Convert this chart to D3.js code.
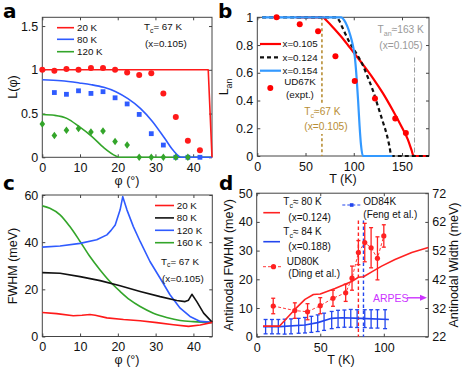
<!DOCTYPE html>
<html>
<head>
<meta charset="utf-8">
<script src="https://cdn.jsdelivr.net/npm/d3@7"></script>
<style>
	body { margin: 0; background: #fff; }
	svg { font-family: "Liberation Sans", Arial, sans-serif; }
</style>
</head>
<body>
<script>
// ---------- panel a : L(phi) ----------
const aPhi = [0, 3.2, 6.4, 9.6, 12.9, 16.1, 19.3, 22.5, 25.7, 28.9, 32.1, 35.4, 38.6, 41.8];
const aRed20K = [1.0, 0.99, 1.01, 1.0, 1.02, 1.02, 1.0, 0.97, 0.94, 0.96, 0.73, 0.46, 0.19, 0.08];
const aBlue80K = [null, 0.74, 0.72, 0.76, 0.73, 0.75, 0.68, 0.61, 0.49, 0.27, 0.14, 0, 0, 0];
const aGreen120K = [0.38, 0.25, 0.31, 0.33, 0.29, 0.30, 0.18, 0.14, 0, 0, 0, 0, 0, null];
const aLine20K = [[0, 1], [44, 1], [45, 0]];
const aLine80K = [[0, 0.887], [5, 0.875], [9.8, 0.85], [13, 0.83], [16.3, 0.8], [19.5, 0.75], [22.7, 0.67], [26, 0.56],
	[29.2, 0.41], [32.4, 0.22], [34.7, 0.08], [36.9, 0], [45, 0]];
const aLine120K = [[0, 0.49], [3.2, 0.48], [6.5, 0.445], [9.8, 0.35], [13.1, 0.24], [16.3, 0.11], [19.5, 0.015], [20.5, 0], [45, 0]];

// ---------- panel b : L_an(T) ----------
const bLine105 = [[40, 1], [68, 1], [72, 0.975], [80, 0.915], [90, 0.835], [100, 0.745], [110, 0.655], [120, 0.56],
	[130, 0.455], [140, 0.335], [150, 0.205], [156, 0.12], [160, 0.04], [162, 0], [178, 0]];
const bLine124 = [[5, 1], [82, 1], [85, 0.975], [88, 0.93], [92, 0.87], [96, 0.815], [100, 0.77], [104, 0.725], [110, 0.645],
	[115, 0.56], [120, 0.47], [125, 0.36], [130, 0.25], [134, 0.16], [137, 0.07], [139, 0], [178, 0]];
const bLine154 = [[5, 1], [87, 1], [90, 0.98], [93, 0.94], [96, 0.88], [99, 0.8], [101, 0.72], [103, 0.56], [104.5, 0.4],
	[106, 0.22], [107.5, 0.08], [109.5, 0], [140, 0]];
const bExpT = [20, 44, 63, 81, 101, 122, 143, 154];
const bExpL = [1.0, 0.95, 0.9, 0.72, 0.54, 0.415, 0.27, 0.165];
const bTc = 67, bTan = 163;

// ---------- panel c : FWHM(phi) ----------
const c20K = [[0, 10.2], [3.8, 9.7], [8.2, 8.8], [10.5, 9.0], [12.6, 9.3], [14, 9.0], [17.1, 7.9], [21.5, 7.2], [25.9, 6.7],
	[30.3, 5.9], [34.7, 5.0], [38.7, 4.3], [41.8, 4.9], [45, 6.0]];
const c80K = [[0, 27.1], [4.7, 26.8], [10, 25.4], [15.3, 23.7], [20.6, 21.5], [25.9, 19.1], [31.2, 16.9], [35.6, 15.3],
	[37.8, 14.8], [38.7, 15.4], [39.6, 17.9], [40.9, 14.8], [42.7, 9.9], [45, 6.0]];
const c120K = [[0, 37.9], [4.7, 38.4], [10, 39.5], [14.4, 41.0], [17.1, 43.1], [18.2, 45.0], [19.3, 47.3], [20.6, 53.7],
	[21.3, 59.3], [22.4, 53.7], [24.1, 46.6], [25.9, 40.3], [28.5, 31.8], [31.2, 24.7], [33.8, 17.7], [36.5, 12.0],
	[39.1, 8.5], [41.8, 6.4], [45, 6.0]];
const c160K = [[0, 55.4], [2, 54.4], [4.7, 51.6], [7.3, 46.6], [10, 40.3], [12.6, 33.9], [15.3, 28.2], [17.9, 23.3],
	[20.6, 19.1], [23.2, 15.5], [25.9, 12.7], [29.4, 9.9], [32.9, 8.1], [36.5, 6.8], [40, 6.3], [45, 6.0]];

// ---------- panel d : antinodal FWHM(T) ----------
const dLine80K = [[5, 3.7], [18, 3.7], [30, 9.5], [38, 13], [44.6, 14.7], [50, 14.9], [61.6, 16.8], [74.7, 19.2], [80, 20.7],
	[84, 20.9], [90.5, 22.6], [98.3, 24.6], [108.8, 26.9], [122, 29.3], [135, 31.1]];
const dLine84K = [[5, 3.5], [18, 3.5], [38, 4.1], [48, 4.9], [59, 6.4], [67, 6.6], [82, 6.4], [104, 6.0]];
const dDingT = [13, 30, 40, 50, 60, 70, 75, 80, 85, 90, 95, 100];
const dDingW = [10.7, 9.1, 8.7, 10.8, 13.4, 15.3, 20.4, 29.3, 32.8, 31.0, 27.3, 35.1];
const dDingErr = [2.7, 2.7, 2.8, 2.8, 2.8, 3.0, 4.2, 4.2, 6.7, 7.0, 7.5, 3.9];
const dFengT = [7, 12, 17, 22, 27, 33, 38, 43, 48, 53, 59, 64, 69, 74, 79, 85, 90, 95, 101];
const dFengW = [3.5, 3.5, 3.5, 3.5, 3.6, 3.8, 4.0, 4.3, 4.7, 5.2, 5.8, 6.2, 6.3, 6.4, 6.3, 6.3, 6.2, 6.2, 6.1];
const dFengErr = [2.5, 2.5, 2.5, 2.6, 2.6, 2.6, 2.7, 2.8, 2.9, 3.0, 3.0, 3.0, 3.0, 3.1, 3.1, 3.1, 3.2, 3.2, 3.3];
const dTc80 = 80, dTc84 = 84;

const FONT = '"Liberation Sans", Arial, sans-serif';
const svg = d3.select('body').append('svg').attr('width', 462).attr('height', 382);

// axes box with inward ticks on all four sides (matlab style)
function makePanel(box, xDom, yDom, xTicks, yTicks, noRight) {
	const x = d3.scaleLinear().domain(xDom).range([ box.l, box.r ]);
	const y = d3.scaleLinear().domain(yDom).range([ box.b, box.t ]);
	const g = svg.append('g');
	const fmt = (d) => String(d);
	g.append('rect').attr('x', box.l).attr('y', box.t).attr('width', box.r - box.l).attr('height', box.b - box.t)
		.attr('fill', 'none').attr('stroke', '#444').attr('stroke-width', 1);
	const axes = [
		g.append('g').attr('transform', 'translate(0,' + box.b + ')')
			.call(d3.axisBottom(x).tickValues(xTicks).tickSizeInner(-3).tickSizeOuter(0).tickPadding(6).tickFormat(fmt)),
		g.append('g').attr('transform', 'translate(0,' + box.t + ')')
			.call(d3.axisTop(x).tickValues(xTicks).tickSizeInner(-3).tickSizeOuter(0).tickFormat('')),
		g.append('g').attr('transform', 'translate(' + box.l + ',0)')
			.call(d3.axisLeft(y).tickValues(yTicks).tickSizeInner(-3).tickSizeOuter(0).tickPadding(4).tickFormat(fmt))
	];
	if (!noRight) {
		axes.push(g.append('g').attr('transform', 'translate(' + box.r + ',0)')
			.call(d3.axisRight(y).tickValues(yTicks).tickSizeInner(-3).tickSizeOuter(0).tickFormat('')));
	}
	axes.forEach((a) => a.attr('font-size', 12.5).attr('font-family', FONT));
	g.selectAll('.domain').remove();
	g.selectAll('.tick line').attr('stroke', '#444');
	g.selectAll('.tick text').attr('fill', '#111');
	return { g, x, y };
}

// text with "_sub" parts
function richText(g, x, y, parts, size, color, anchor) {
	const t = g.append('text').attr('x', x).attr('y', y).attr('font-size', size)
		.attr('fill', color || '#111').attr('text-anchor', anchor || 'start');
	let sub = false;
	parts.forEach((p) => {
		const isSub = p.startsWith('_');
		const s = t.append('tspan').text(isSub ? p.slice(1) : p);
		if (isSub) s.attr('font-size', size * 0.7);
		if (isSub && !sub) s.attr('dy', size * 0.3);
		if (!isSub && sub) s.attr('dy', -size * 0.3);
		sub = isSub;
	});
	return t;
}

function rotLabel(x, y, parts, size) {
	const t = richText(svg, 0, 0, parts, size || 12.5, '#111', 'middle');
	t.attr('transform', 'translate(' + x + ',' + y + ') rotate(-90)');
}

function legLine(g, x1, x2, y, color, width, dash) {
	g.append('line').attr('x1', x1).attr('x2', x2).attr('y1', y).attr('y2', y)
		.attr('stroke', color).attr('stroke-width', width).attr('stroke-dasharray', dash || null);
}

function drawLine(p, data, color, width, curve, dash) {
	const line = d3.line().x((d) => p.x(d[0])).y((d) => p.y(d[1])).curve(curve || d3.curveLinear);
	p.g.append('path').datum(data).attr('d', line).attr('fill', 'none').attr('stroke', color)
		.attr('stroke-width', width).attr('stroke-linejoin', 'round').attr('stroke-dasharray', dash || null);
}

// panel letters
[ [ 'a', 3, 18 ], [ 'b', 218, 18 ], [ 'c', 3, 190 ], [ 'd', 219, 190 ] ].forEach((l) => {
	svg.append('text').attr('x', l[1]).attr('y', l[2]).attr('font-size', 20).attr('font-weight', 'bold')
		.attr('font-family', '"DejaVu Sans", sans-serif').text(l[0]);
});

// ================= a =================
const RED = '#ff1a1a', BLUE = '#2f5bff', GREEN = '#33a52a';
const pa = makePanel({ l: 42.3, r: 212, t: 17.3, b: 157.3 }, [ 0, 45 ], [ 0, 1.6 ], [ 0, 10, 20, 30, 40 ], [ 0, 0.5, 1, 1.5 ]);
drawLine(pa, aLine120K, GREEN, 1.6, d3.curveMonotoneX);
drawLine(pa, aLine80K, BLUE, 1.6, d3.curveMonotoneX);
drawLine(pa, aLine20K, RED, 1.6);
pa.g.selectAll('.ared').data(aPhi.map((p, i) => [ p, aRed20K[i] ])).enter().append('circle')
	.attr('cx', (d) => pa.x(d[0])).attr('cy', (d) => pa.y(d[1])).attr('r', 3).attr('fill', RED);
pa.g.selectAll('.ablue').data(aPhi.map((p, i) => [ p, aBlue80K[i] ]).filter((d) => d[1] !== null)).enter().append('rect')
	.attr('x', (d) => pa.x(d[0]) - 2.4).attr('y', (d) => pa.y(d[1]) - 2.4).attr('width', 4.8).attr('height', 4.8).attr('fill', BLUE);
pa.g.selectAll('.agreen').data(aPhi.map((p, i) => [ p, aGreen120K[i] ]).filter((d) => d[1] !== null)).enter().append('path')
	.attr('transform', (d) => 'translate(' + pa.x(d[0]) + ',' + pa.y(d[1]) + ')')
	.attr('d', 'M0,-3.8L2.8,0L0,3.8L-2.8,0Z').attr('fill', GREEN);
legLine(pa.g, 57, 74, 27.7, RED, 1.6);
legLine(pa.g, 57, 74, 39.3, BLUE, 1.6);
legLine(pa.g, 57, 74, 51.7, GREEN, 1.6);
richText(pa.g, 77, 31, [ '20 K' ], 9.8);
richText(pa.g, 77, 42.7, [ '80 K' ], 9.8);
richText(pa.g, 77, 55.1, [ '120 K' ], 9.8);
richText(pa.g, 144, 30, [ 'T', '_c', '= 67 K' ], 9.8);
richText(pa.g, 145, 46.7, [ '(x=0.105)' ], 9.8);
rotLabel(17, 87, [ 'L(φ)' ]);
richText(svg, 127, 185, [ 'φ (°)' ], 12.5, '#111', 'middle');

// ================= b =================
const BROWN = '#b88e35', SKY = '#3399ff';
const pb = makePanel({ l: 257.3, r: 429, t: 17.3, b: 156 }, [ 0, 178 ], [ 0, 1 ], [ 0, 50, 100, 150 ],
	[ 0, 0.2, 0.4, 0.6, 0.8, 1 ]);
pb.g.append('line').attr('x1', pb.x(bTc)).attr('x2', pb.x(bTc)).attr('y1', pb.y(1)).attr('y2', pb.y(0))
	.attr('stroke', BROWN).attr('stroke-width', 1.6).attr('stroke-dasharray', '3,2.5');
pb.g.append('line').attr('x1', pb.x(bTan)).attr('x2', pb.x(bTan)).attr('y1', pb.y(0.71)).attr('y2', pb.y(0))
	.attr('stroke', '#999').attr('stroke-width', 1).attr('stroke-dasharray', '5,2,1,2');
drawLine(pb, bLine105, '#ff0000', 2.2, d3.curveMonotoneX);
drawLine(pb, bLine124, '#111', 2.2, d3.curveMonotoneX, '4,3');
drawLine(pb, bLine154, SKY, 2.2, d3.curveMonotoneX);
pb.g.selectAll('.bexp').data(bExpT.map((t, i) => [ t, bExpL[i] ])).enter().append('circle')
	.attr('cx', (d) => pb.x(d[0])).attr('cy', (d) => pb.y(d[1])).attr('r', 3).attr('fill', '#ff0000');
legLine(pb.g, 260, 281, 44, '#ff0000', 2.2);
legLine(pb.g, 260, 281, 57.3, '#111', 2.2, '4,3');
legLine(pb.g, 260, 281, 70.7, SKY, 2.2);
richText(pb.g, 282.5, 47.4, [ 'x=0.105' ], 9.8);
richText(pb.g, 282.5, 60.7, [ 'x=0.124' ], 9.8);
richText(pb.g, 282.5, 74.0, [ 'x=0.154' ], 9.8);
pb.g.append('circle').attr('cx', 270.3).attr('cy', 88).attr('r', 3).attr('fill', '#ff0000');
richText(pb.g, 300, 84.6, [ 'UD67K' ], 9.8, '#111', 'middle');
richText(pb.g, 300, 98.3, [ '(expt.)' ], 9.8, '#111', 'middle');
// white patch so the Tc dashes stop behind the label
pb.g.append('rect').attr('x', 303).attr('y', 104).attr('width', 46).attr('height', 30).attr('fill', '#fff');
richText(pb.g, 304.3, 114.5, [ 'T', '_c', '≈67 K' ], 10.2, BROWN);
richText(pb.g, 304.3, 129.5, [ '(x=0.105)' ], 10.2, BROWN);
richText(pb.g, 377.5, 32.5, [ 'T', '_an', '≈163 K' ], 10.2, '#999');
richText(pb.g, 379.3, 48.5, [ '(x=0.105)' ], 10.2, '#999');
rotLabel(228, 87, [ 'L', '_an' ]);
richText(svg, 343, 183, [ 'T (K)' ], 12.5, '#111', 'middle');

// ================= c =================
const pc = makePanel({ l: 42.3, r: 212.3, t: 195, b: 336.5 }, [ 0, 45 ], [ 0, 60 ], [ 0, 10, 20, 30, 40 ], [ 0, 20, 40, 60 ]);
drawLine(pc, c160K, GREEN, 1.6, d3.curveMonotoneX);
drawLine(pc, c120K, BLUE, 1.6);
drawLine(pc, c80K, '#111', 1.6);
drawLine(pc, c20K, RED, 1.6);
[ [ RED, '20 K' ], [ '#111', '80 K' ], [ BLUE, '120 K' ], [ GREEN, '160 K' ] ].forEach((l, i) => {
	const yy = 205.5 + i * 12.4;
	legLine(pc.g, 155, 174, yy, l[0], 1.6);
	richText(pc.g, 176.7, yy + 3.5, [ l[1] ], 9.8);
});
richText(pc.g, 161, 264.5, [ 'T', '_c', '= 67 K' ], 9.8);
richText(pc.g, 162, 281.5, [ '(x=0.105)' ], 9.8);
rotLabel(17, 266, [ 'FWHM (meV)' ]);
richText(svg, 127, 364, [ 'φ (°)' ], 12.5, '#111', 'middle');

// ================= d =================
const DBLUE = '#2346ee', DRED = '#ff2222', PURPLE = '#cc33ff';
const pd = makePanel({ l: 256.7, r: 428.3, t: 193.2, b: 336.7 }, [ 0, 135 ], [ 0, 50 ], [ 0, 50, 100 ],
	[ 0, 10, 20, 30, 40, 50 ], true);
const yRight = d3.scaleLinear().domain([ 22, 72 ]).range([ 336.7, 193.2 ]);
pd.g.append('g').attr('transform', 'translate(428.3,0)')
	.call(d3.axisRight(yRight).tickValues([ 22, 32, 42, 52, 62, 72 ]).tickSizeInner(-3).tickSizeOuter(0).tickPadding(4))
	.attr('font-size', 12.5).attr('font-family', FONT)
	.call((a) => { a.select('.domain').remove(); a.selectAll('line').attr('stroke', '#444'); a.selectAll('text').attr('fill', '#111'); });

pd.g.append('line').attr('x1', pd.x(dTc80)).attr('x2', pd.x(dTc80)).attr('y1', pd.y(40.5)).attr('y2', pd.y(0))
	.attr('stroke', DRED).attr('stroke-width', 1.4).attr('stroke-dasharray', '3.5,2.5');
pd.g.append('line').attr('x1', pd.x(dTc84)).attr('x2', pd.x(dTc84)).attr('y1', pd.y(40.5)).attr('y2', pd.y(0))
	.attr('stroke', DBLUE).attr('stroke-width', 1.4).attr('stroke-dasharray', '3.5,2.5');

// blue error bars
const feng = dFengT.map((t, i) => ({ t: t, w: dFengW[i], e: dFengErr[i] }));
const fb = pd.g.selectAll('.feng').data(feng).enter().append('g').attr('stroke', DBLUE).attr('stroke-width', 1.3);
fb.append('line').attr('x1', (d) => pd.x(d.t)).attr('x2', (d) => pd.x(d.t))
	.attr('y1', (d) => pd.y(d.w - d.e)).attr('y2', (d) => pd.y(d.w + d.e));
fb.append('line').attr('x1', (d) => pd.x(d.t) - 2).attr('x2', (d) => pd.x(d.t) + 2)
	.attr('y1', (d) => pd.y(d.w - d.e)).attr('y2', (d) => pd.y(d.w - d.e));
fb.append('line').attr('x1', (d) => pd.x(d.t) - 2).attr('x2', (d) => pd.x(d.t) + 2)
	.attr('y1', (d) => pd.y(d.w + d.e)).attr('y2', (d) => pd.y(d.w + d.e));
drawLine(pd, dLine84K, DBLUE, 1.6);

// Ding et al. points
const ding = dDingT.map((t, i) => ({ t: t, w: dDingW[i], e: dDingErr[i] }));
drawLine(pd, ding.map((d) => [ d.t, d.w ]), DRED, 0.9, d3.curveLinear, '3,2');
const db = pd.g.selectAll('.ding').data(ding).enter().append('g').attr('stroke', DRED).attr('stroke-width', 1.3);
db.append('line').attr('x1', (d) => pd.x(d.t)).attr('x2', (d) => pd.x(d.t))
	.attr('y1', (d) => pd.y(d.w - d.e)).attr('y2', (d) => pd.y(d.w + d.e));
db.append('line').attr('x1', (d) => pd.x(d.t) - 2).attr('x2', (d) => pd.x(d.t) + 2)
	.attr('y1', (d) => pd.y(d.w - d.e)).attr('y2', (d) => pd.y(d.w - d.e));
db.append('line').attr('x1', (d) => pd.x(d.t) - 2).attr('x2', (d) => pd.x(d.t) + 2)
	.attr('y1', (d) => pd.y(d.w + d.e)).attr('y2', (d) => pd.y(d.w + d.e));
db.append('circle').attr('cx', (d) => pd.x(d.t)).attr('cy', (d) => pd.y(d.w)).attr('r', 2.6)
	.attr('fill', DRED).attr('stroke', 'none');
drawLine(pd, dLine80K, DRED, 1.6);

// legend d
legLine(pd.g, 263.3, 280, 212.7, DRED, 1.6);
richText(pd.g, 283.3, 205, [ 'T', '_c', '≈ 80 K' ], 10);
richText(pd.g, 288.3, 220.8, [ '(x=0.124)' ], 10);
legLine(pd.g, 263.3, 280, 241.7, DBLUE, 1.6);
richText(pd.g, 283.3, 235, [ 'T', '_c', '≈ 84 K' ], 10);
richText(pd.g, 288.3, 250.2, [ '(x=0.188)' ], 10);
legLine(pd.g, 263, 282, 266.7, DRED, 0.9, '3,2');
pd.g.append('circle').attr('cx', 273.5).attr('cy', 266.7).attr('r', 2.6).attr('fill', DRED);
richText(pd.g, 286.7, 265.2, [ 'UD80K' ], 10);
richText(pd.g, 288.3, 277, [ '(Ding et al.)' ], 10);
legLine(pd.g, 342.3, 361, 205, DBLUE, 1.2, '3,2');
pd.g.append('rect').attr('x', 349.9).attr('y', 203.2).attr('width', 3.6).attr('height', 3.6).attr('fill', DBLUE);
richText(pd.g, 363.3, 205.2, [ 'OD84K' ], 10);
richText(pd.g, 363.3, 217.5, [ '(Feng et al.)' ], 10);

// ARPES arrow
richText(pd.g, 373, 301.5, [ 'ARPES' ], 10.5, PURPLE);
pd.g.append('line').attr('x1', 407).attr('x2', 422).attr('y1', 297.8).attr('y2', 297.8)
	.attr('stroke', PURPLE).attr('stroke-width', 1.4);
pd.g.append('path').attr('d', 'M427,297.8L420,294.8L420,300.8Z').attr('fill', PURPLE);

rotLabel(233, 265, [ 'Antinodal FWHM (meV)' ]);
rotLabel(457.5, 265, [ 'Antinodal Width (meV)' ]);
richText(svg, 341, 364, [ 'T (K)' ], 12.5, '#111', 'middle');
</script>
</body>
</html>
